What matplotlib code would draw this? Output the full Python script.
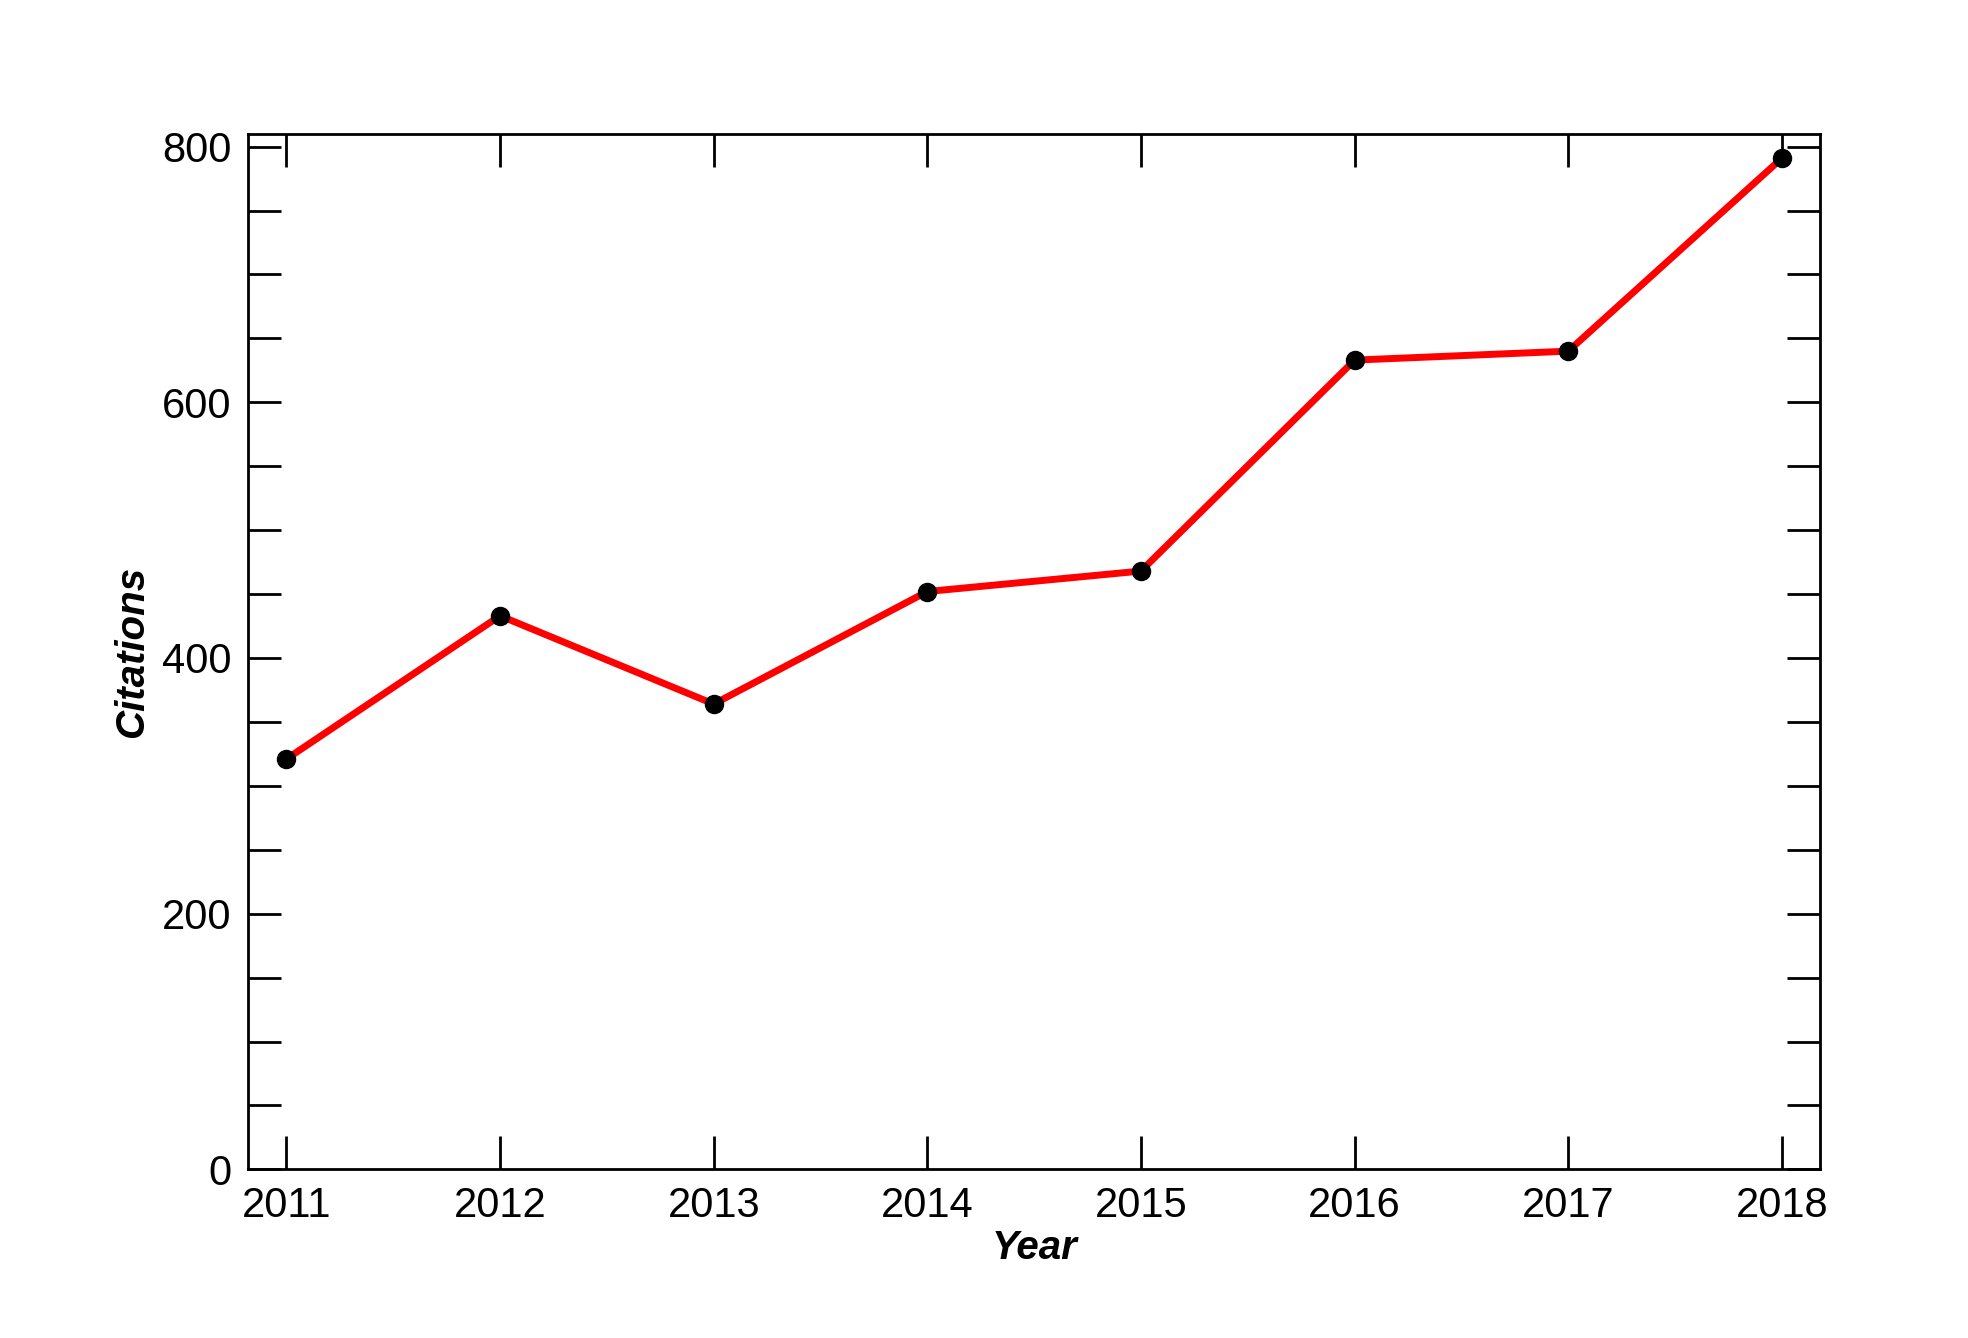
import matplotlib
matplotlib.use("Agg")
import matplotlib.pyplot as plt
from matplotlib.ticker import MultipleLocator

plt.rcParams['font.family'] = ['Liberation Sans', 'DejaVu Sans']

years = [2011, 2012, 2013, 2014, 2015, 2016, 2017, 2018]
citations = [321, 433, 364, 452, 468, 633, 640, 791]

fig = plt.figure(figsize=(19.68, 13.38), dpi=100)
ax = fig.add_axes([0.126, 0.126, 0.799, 0.774])

ax.plot(years, citations, color='red', lw=5, zorder=2)
ax.plot(years, citations, 'o', color='black', ms=13, zorder=3)

ax.set_xlim(2010.82, 2018.18)
ax.set_ylim(0, 810)
ax.set_xticks(years)
ax.yaxis.set_major_locator(MultipleLocator(200))
ax.yaxis.set_minor_locator(MultipleLocator(50))

ax.tick_params(which='both', direction='in', top=True, right=True, width=2, labelsize=30, pad=12)
ax.tick_params(which='both', length=24)
ax.tick_params(axis='x', which='minor', bottom=False, top=False)
for s in ax.spines.values():
    s.set_linewidth(2)

ax.set_xlabel('Year', fontsize=29, fontweight='bold', style='italic', labelpad=2)
ax.set_ylabel('Citations', fontsize=29, fontweight='bold', style='italic', labelpad=8)

fig.savefig('out.png', dpi=100)
